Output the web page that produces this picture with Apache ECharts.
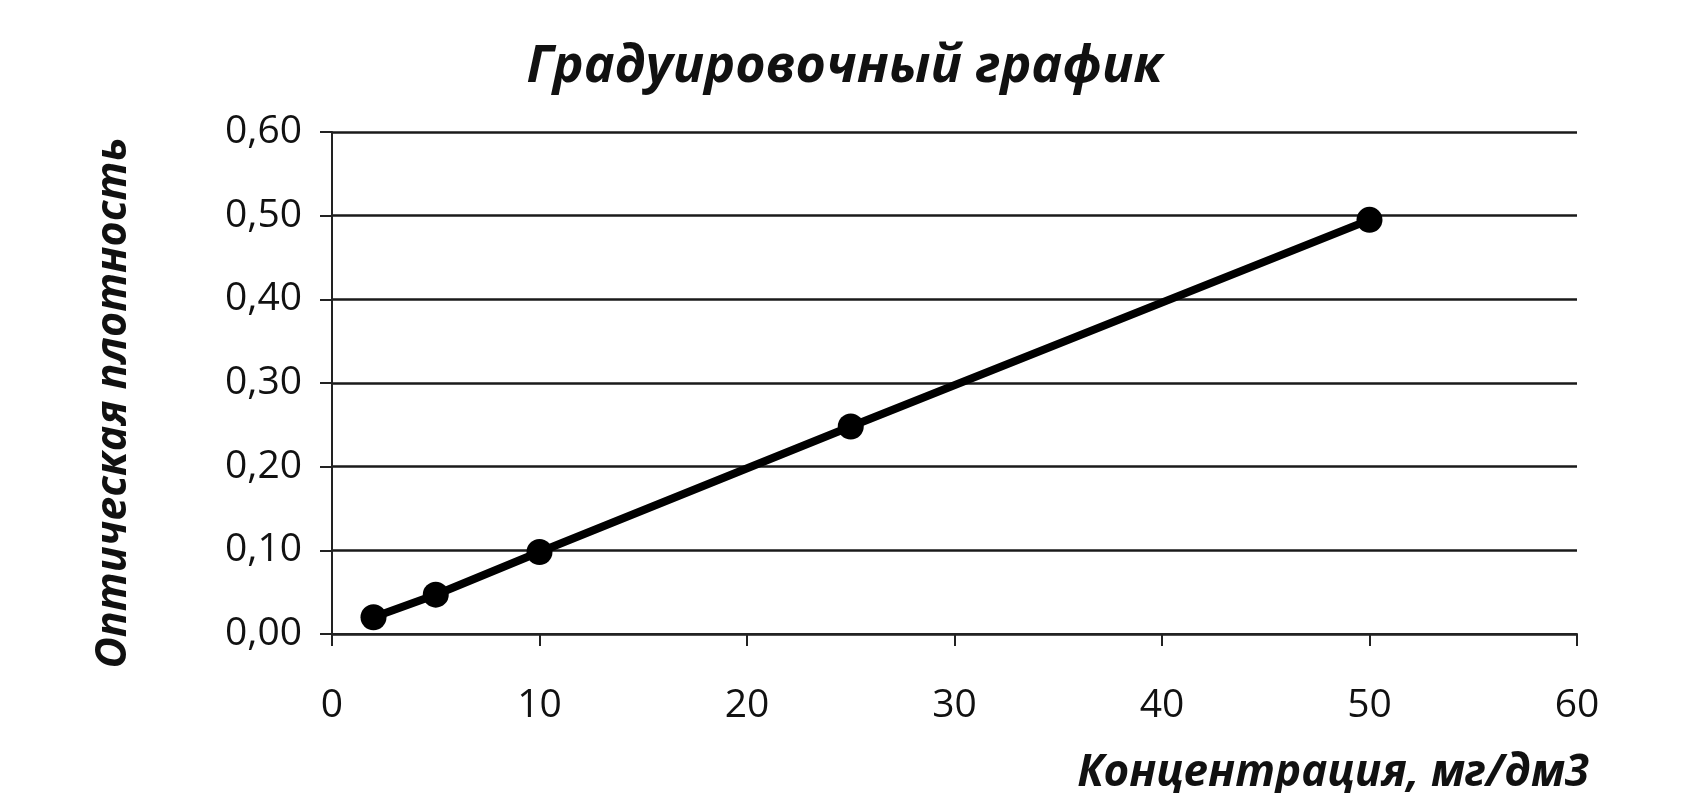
<!DOCTYPE html>
<html>
<head>
<meta charset="utf-8">
<script src="https://cdn.jsdelivr.net/npm/echarts@6/dist/echarts.min.js"></script>
<style>
html,body{margin:0;padding:0;background:#fff;}
#chart{width:1690px;height:793px;}
</style>
</head>
<body>
<div id="chart"></div>
<script>
var concentration = [2, 5, 10, 25, 50];
var density = [0.02, 0.047, 0.098, 0.248, 0.495];
var chartTitle = 'Градуировочный график';
var xName = 'Концентрация, мг/дм3';
var yName = 'Оптическая плотность';

var points = concentration.map(function (c, i) { return [c, density[i]]; });
var font = 'Open Sans';
var chart = echarts.init(document.getElementById('chart'));
chart.setOption({
  backgroundColor: '#ffffff',
  animation: false,
  title: [
    { text: chartTitle, left: 'center', top: 36,
      textStyle: { fontFamily: font, fontSize: 52, fontWeight: 'bold', fontStyle: 'italic', color: '#111' } },
    { text: xName, right: 96, top: 746,
      textStyle: { fontFamily: font, fontSize: 44, fontWeight: 'bold', fontStyle: 'italic', color: '#111' } }
  ],
  graphic: [{
    type: 'text',
    x: 114, y: 403,
    rotation: Math.PI / 2,
    style: {
      text: yName,
      fontFamily: font, fontSize: 43, fontWeight: 'bold', fontStyle: 'italic',
      fill: '#111', textAlign: 'center', textVerticalAlign: 'middle'
    }
  }],
  grid: { left: 332, right: 113, top: 132, bottom: 159 },
  xAxis: {
    type: 'value', min: 0, max: 60, interval: 10,
    axisLine: { show: true, onZero: false, lineStyle: { color: '#222', width: 2 } },
    axisTick: { show: true, inside: false, length: 12, lineStyle: { color: '#222', width: 2 } },
    axisLabel: { margin: 52, fontFamily: font, fontSize: 39, color: '#111' },
    splitLine: { show: false }
  },
  yAxis: {
    type: 'value', min: 0, max: 0.6, interval: 0.1,
    axisLine: { show: true, lineStyle: { color: '#222', width: 2 } },
    axisTick: { show: true, inside: false, length: 12, lineStyle: { color: '#222', width: 2 } },
    axisLabel: { margin: 30, fontFamily: font, fontSize: 39, color: '#111',
      formatter: function (v) { return v.toFixed(2).replace('.', ','); } },
    splitLine: { show: true, lineStyle: { color: '#1a1a1a', width: 2.5 } }
  },
  series: [{
    type: 'line',
    data: points,
    symbol: 'circle',
    symbolSize: 26,
    lineStyle: { color: '#000', width: 8 },
    itemStyle: { color: '#000' }
  }]
});
</script>
</body>
</html>
